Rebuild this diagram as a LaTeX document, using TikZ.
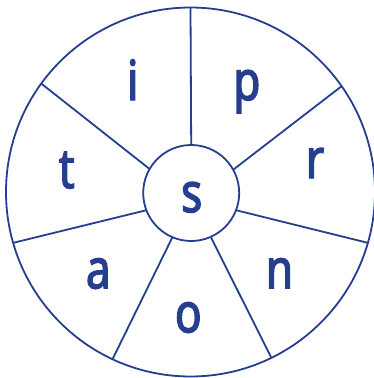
\documentclass[tikz,border=0pt]{standalone}
\usepackage{fontspec}
\newfontfamily\wheelfont[FakeStretch=0.8,FakeBold=2.5]{Noto Sans}
\definecolor{wheelblue}{RGB}{38,62,142}
\begin{document}
\begin{tikzpicture}[x=1pt,y=-1pt,
  ring/.style={circle,draw=wheelblue,line width=1.8pt,inner sep=0pt,outer sep=0pt},
  spoke/.style={draw=wheelblue,line width=1.8pt},
  letter/.style={anchor=base,text=wheelblue,inner sep=0pt,font=\wheelfont\fontsize{55}{60}\selectfont}]
\useasboundingbox (0,0) rectangle (374,378);
\node[ring,minimum size=369pt] (O) at (190.5,192) {};
\node[ring,minimum size=96pt] (I) at (191.2,193) {};
\draw[spoke] (I.90) -- (O.90);
\draw[spoke] (I.29.6) -- (O.35.6);
\draw[spoke] (I.-21.6) -- (O.-16.7);
\draw[spoke] (I.-66.5) -- (O.-64.5);
\draw[spoke] (I.-113.5) -- (O.-115.5);
\draw[spoke] (I.201.6) -- (O.196.7);
\draw[spoke] (I.150.4) -- (O.144.4);
\node[letter] (li) at (132.7,100) {i};
\node[letter] (lp) at (246.8,100) {p};
\node[letter] (lt) at (66.7,188) {t};
\node[letter] (lr) at (315,178) {r};
\node[letter] (ls) at (191.7,212) {s};
\node[letter] (la) at (98.3,288.3) {a};
\node[letter] (ln) at (279.5,288.3) {n};
\node[letter] (lo) at (188.3,332.3) {o};
\end{tikzpicture}
\end{document}
